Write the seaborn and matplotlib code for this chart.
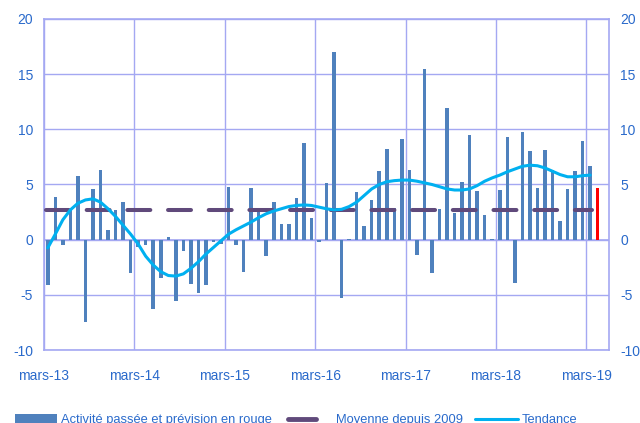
import pandas as pd
import matplotlib.pyplot as plt
import seaborn as sns
from matplotlib.patches import Patch
from matplotlib.lines import Line2D

# monthly activity, mars-13 .. avril-19 (last one = forecast)
activite = [-4.1, 3.85, -0.5, 2.7, 5.8, -7.5, 4.6, 6.3, 0.9, 2.7,
            3.4, -3.0, -0.7, -0.5, -6.3, -3.5, 0.25, -5.6, -1.0, -4.0,
            -4.8, -4.1, -0.25, -0.35, 4.8, -0.5, -2.9, 4.7, 2.5, -1.45,
            3.45, 1.45, 1.45, 3.8, 8.8, 2.0, -0.2, 5.1, 17.0, -5.3,
            0.1, 4.3, 1.2, 3.6, 6.2, 8.2, 2.9, 9.1, 6.3, -1.35,
            15.5, -3.0, 2.8, 11.9, 2.4, 5.2, 9.5, 4.45, 2.25, 0.1,
            4.5, 9.3, -3.9, 9.8, 8.0, 4.7, 8.1, 6.3, 1.7, 4.6,
            6.2, 8.9, 6.7, 4.7]
tendance = [-0.75, 0.5, 1.8, 2.7, 3.3, 3.6, 3.7, 3.4, 2.8, 2.1,
            1.3, 0.5, -0.4, -1.5, -2.3, -2.9, -3.25, -3.3, -3.1, -2.6,
            -2.0, -1.3, -0.7, -0.1, 0.5, 0.9, 1.25, 1.6, 2.0, 2.35,
            2.6, 2.8, 3.0, 3.1, 3.15, 3.1, 2.95, 2.8, 2.7, 2.75,
            3.0, 3.4, 4.0, 4.6, 5.0, 5.25, 5.35, 5.4, 5.4, 5.3,
            5.15, 5.0, 4.8, 4.6, 4.5, 4.5, 4.6, 4.9, 5.3, 5.6,
            5.85, 6.15, 6.4, 6.65, 6.75, 6.7, 6.5, 6.2, 5.9, 5.7,
            5.7, 5.8, 5.85]
moyenne = 2.7
mois_labels = ['mars-13', 'mars-14', 'mars-15', 'mars-16', 'mars-17', 'mars-18', 'mars-19']

n = len(activite)
df = pd.DataFrame({'pos': [i + 0.5 for i in range(n)], 'val': activite,
                   'type': ['passe'] * (n - 1) + ['prevision']})
df_t = pd.DataFrame({'pos': [i + 0.5 for i in range(len(tendance))], 'val': tendance})
df_m = pd.DataFrame({'pos': [0.3, n - 1.2], 'val': [moyenne, moyenne]})

sns.set_style('white')
plt.rcParams['font.family'] = ['Liberation Sans', 'DejaVu Sans']
plt.rcParams['axes.unicode_minus'] = False

blue_txt = '#2a6acb'
grid_col = '#a4a8f2'
bar_col = '#4f81bd'
moy_col = '#604a7b'
tend_col = '#00b0f0'

fig = plt.figure(figsize=(6.4, 4.23), dpi=100)
ax = fig.add_axes([44 / 640, 1 - 350 / 423, 565 / 640, 331 / 423])

sns.barplot(data=df, x='pos', y='val', hue='type', native_scale=True,
            palette={'passe': bar_col, 'prevision': '#ff0000'},
            width=0.47, dodge=False, errorbar=None, legend=False, ax=ax,
            saturation=1, linewidth=0, edgecolor='none', zorder=2)
sns.lineplot(data=df_m, x='pos', y='val', ax=ax, color=moy_col, lw=2.9, zorder=3)
ax.lines[-1].set_dashes([5.7, 4.4])
ax.lines[-1].set_dash_capstyle('round')
sns.lineplot(data=df_t, x='pos', y='val', ax=ax, color=tend_col, lw=2.2, zorder=4)

ax.set_xlim(0, 75)
ax.set_ylim(-10, 20)
ax.set_xticks(range(0, 73, 12))
ax.set_xticklabels(mois_labels)
ax.set_yticks(range(-10, 21, 5))
ax.set_xlabel('')
ax.set_ylabel('')
ax.grid(True, color=grid_col, lw=1.0, zorder=0)
ax.set_axisbelow(True)
ax.axhline(0, color=grid_col, lw=1.2, zorder=1)
for s in ax.spines.values():
    s.set_color(grid_col)
    s.set_linewidth(1.2)
ax.tick_params(axis='both', length=0, labelsize=10, colors=blue_txt,
               labelright=True, pad=8)
ax.tick_params(axis='x', pad=14)

# legend, one block per entry so each handle keeps its own length
fs = 9.3
entries = [
    (Patch(facecolor=bar_col, edgecolor='none'), 'Activité passée et prévision en rouge', 15, 3.25, 0.3),
    (Line2D([0], [0], color=moy_col, lw=3.5), 'Moyenne depuis 2009', 288, 2.2, 1.5),
    (Line2D([0], [0], color=tend_col, lw=2.2), 'Tendance', 475, 3.3, 0.3),
]
for h, lab, x0, hl, tp in entries:
    leg = fig.legend([h], [lab], loc='center left', bbox_to_anchor=(x0 / 640, 3 / 423),
                     frameon=False, fontsize=fs, handlelength=hl, handleheight=0.6,
                     handletextpad=tp, borderpad=0, borderaxespad=0)
    for t in leg.get_texts():
        t.set_color(blue_txt)

fig.savefig('out.png', dpi=100)
